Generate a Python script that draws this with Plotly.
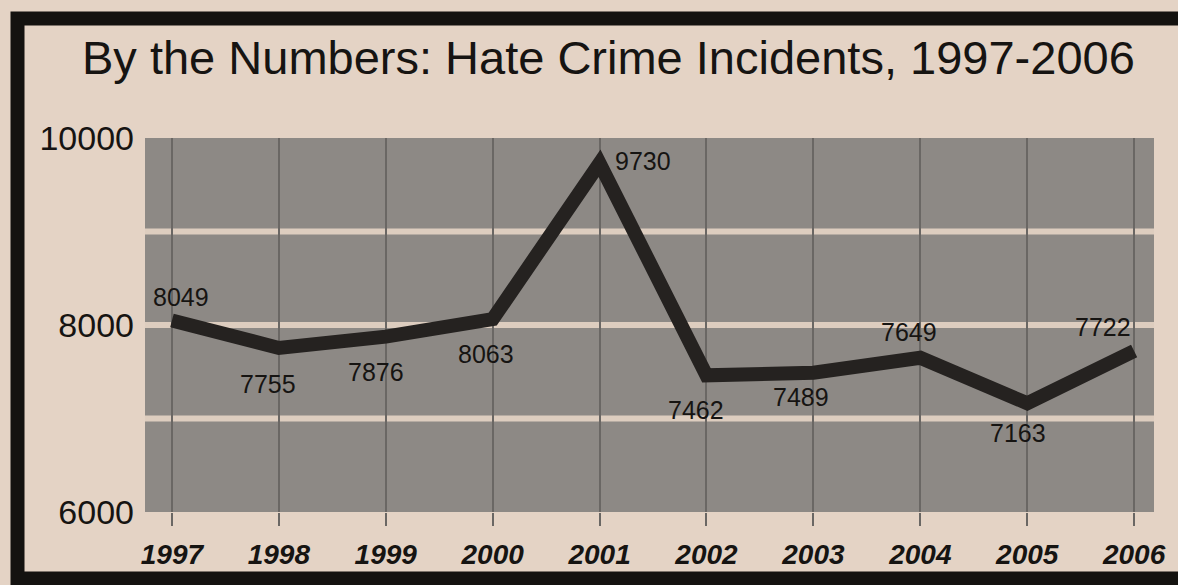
import plotly.graph_objects as go

# ---- data ----
years = [1997, 1998, 1999, 2000, 2001, 2002, 2003, 2004, 2005, 2006]
incidents = [8049, 7755, 7876, 8063, 9730, 7462, 7489, 7649, 7163, 7722]
year_labels = ["1997", "1998", "1999", "2000", "2001", "2002", "2003", "2004", "2005", "2006"]
y_ticks = [6000, 8000, 10000]
band_lines = [7000, 8000, 9000]
title_text = "By the Numbers: Hate Crime Incidents, 1997-2006"

# label offsets (pixels) for the value labels
label_dx = [9, -11, -10, -7, 43, -10, -12, -11, -9, -31]
label_dy = [23, -36, -35, -35, 2, -35, -24, 26, -30, 24]

W, H = 1178, 585
L, R, T, B = 145, 20, 138, 73
pw, ph = W - L - R, H - T - B

def px(x):
    return (x - L) / pw

def py(y):
    return (H - B - y) / ph

paper = "#e4d3c5"
plotbg = "#8d8985"
ink = "#161412"
fnt = "Liberation Sans, Arial, sans-serif"

fig = go.Figure()
fig.add_trace(go.Scatter(
    x=years, y=incidents, mode="lines",
    line=dict(color="#252220", width=14),
    hoverinfo="skip", showlegend=False,
))

shapes = []
for v in band_lines:
    shapes.append(dict(type="line", xref="paper", yref="y", x0=0, x1=1, y0=v, y1=v,
                       line=dict(color="#ddcdbf", width=6), layer="between"))
# black frame
shapes.append(dict(type="rect", xref="paper", yref="paper",
                   x0=px(17), x1=px(1200), y0=py(18.5), y1=py(578.5),
                   line=dict(color="#141210", width=14), layer="above"))

annotations = [dict(text=title_text, x=px(610), y=py(57), xref="paper", yref="paper",
                    xanchor="center", yanchor="middle", showarrow=False,
                    font=dict(family=fnt, size=47, color=ink))]
for x, v, dx, dy in zip(years, incidents, label_dx, label_dy):
    annotations.append(dict(text=str(v), x=x, y=v, xref="x", yref="y",
                            xshift=dx, yshift=dy, showarrow=False,
                            font=dict(family=fnt, size=25, color=ink)))

fig.update_layout(
    width=W, height=H,
    margin=dict(l=L, r=R, t=T, b=B, pad=0),
    paper_bgcolor=paper, plot_bgcolor=plotbg,
    shapes=shapes, annotations=annotations,
    xaxis=dict(range=[1996.748, 2006.186], tickvals=years, ticktext=year_labels,
               showgrid=True, gridcolor="#6a6764", gridwidth=2,
               ticks="outside", ticklen=13, tickwidth=2, tickcolor="#6a6764",
               tickfont=dict(family=fnt, size=28, color=ink, style="italic", weight="bold"),
               ticklabelstandoff=4,
               zeroline=False, showline=False, fixedrange=True),
    yaxis=dict(range=[6000, 10000], tickvals=y_ticks, ticktext=[str(t) for t in y_ticks],
               showgrid=False, zeroline=False, showline=False, ticks="",
               tickfont=dict(family=fnt, size=34, color=ink),
               ticklabelstandoff=10, fixedrange=True),
)

fig.write_html("out.html")
